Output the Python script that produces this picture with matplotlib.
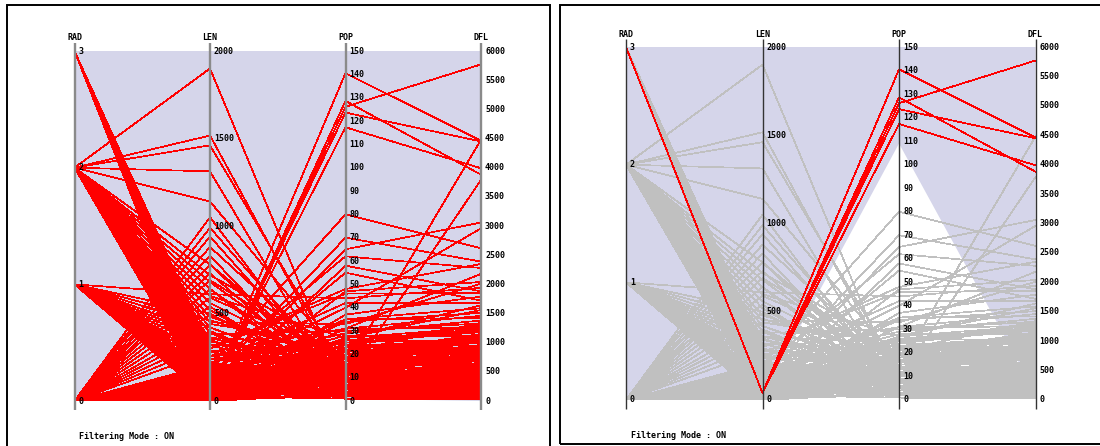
import numpy as np
import matplotlib.pyplot as plt
from matplotlib.patches import Rectangle, Polygon
from matplotlib.transforms import offset_copy

W, H = 1100, 446

# Parallel coordinates dimensions
names = ["RAD", "LEN", "POP", "DFL"]
maxima = [3, 2000, 150, 6000]
tick_steps = [1, 500, 10, 500]

# Records: (RAD, LEN, POP, DFL)
sel_rows = [
    (3, 40, 140.5, 4460), (3, 40, 128.6, 3880), (3, 40, 126.1, 5770),
    (3, 40, 123.6, 4450), (3, 40, 117.3, 3990),
]

rad3_rows = [
    (3, 30, 12, 420), (3, 45, 8, 260), (3, 55, 22, 880), (3, 60, 5, 150),
    (3, 65, 15, 640), (3, 70, 31, 1250), (3, 80, 9, 330), (3, 85, 18, 720),
    (3, 90, 3, 90), (3, 95, 26, 1020), (3, 100, 11, 480), (3, 105, 7, 210),
    (3, 110, 20, 800), (3, 115, 14, 560), (3, 120, 35, 1420), (3, 125, 4, 120),
    (3, 130, 17, 700), (3, 140, 24, 950), (3, 150, 10, 380), (3, 160, 6, 240),
    (3, 170, 28, 1120), (3, 180, 13, 520), (3, 190, 2, 60), (3, 200, 19, 760),
    (3, 210, 42, 1680), (3, 220, 8, 300), (3, 240, 16, 610), (3, 260, 23, 900),
    (3, 280, 12, 450), (3, 300, 46, 1850),
]

rad2_rows = [
    (2, 1900, 3, 310), (2, 1517, 7, 560), (2, 1461, 12, 230), (2, 1312, 1, 140),
    (2, 1140, 16, 690), (2, 780, 4, 380), (2, 720, 21, 1340), (2, 680, 9, 470),
    (2, 640, 2, 210), (2, 600, 27, 1560), (2, 560, 13, 830), (2, 520, 6, 320),
    (2, 480, 18, 1010), (2, 450, 33, 2010), (2, 420, 10, 560), (2, 390, 3, 110),
    (2, 360, 24, 1290), (2, 340, 15, 760), (2, 320, 8, 420), (2, 300, 48, 2350),
    (2, 280, 12, 650), (2, 260, 5, 240), (2, 240, 20, 1150), (2, 220, 29, 1380),
    (2, 200, 11, 590), (2, 185, 62, 2280), (2, 170, 7, 330), (2, 155, 17, 920),
    (2, 140, 14, 780), (2, 125, 9, 3790), (2, 110, 22, 1070), (2, 100, 4, 180),
    (2, 90, 55, 1720), (2, 80, 13, 610), (2, 70, 26, 1230), (2, 60, 2, 70),
    (2, 50, 19, 840), (2, 40, 8, 350), (2, 35, 37, 1790), (2, 30, 6, 260),
    (2, 25, 16, 700), (2, 20, 10, 440), (2, 15, 23, 990), (2, 10, 3, 130),
    (2, 5, 12, 520),
]

rad1_rows = [
    (1, 610, 44, 1940), (1, 500, 5, 230), (1, 460, 18, 870), (1, 420, 11, 500),
    (1, 380, 30, 1330), (1, 350, 7, 290), (1, 320, 21, 1040), (1, 290, 14, 650),
    (1, 260, 3, 120), (1, 240, 25, 1180), (1, 220, 9, 410), (1, 200, 80, 2620),
    (1, 180, 16, 740), (1, 160, 6, 250), (1, 145, 14, 4480), (1, 130, 19, 880),
    (1, 115, 11, 530), (1, 100, 34, 1510), (1, 90, 2, 90), (1, 80, 13, 600),
    (1, 70, 8, 360), (1, 60, 20, 930), (1, 50, 4, 170), (1, 40, 15, 680),
    (1, 30, 10, 460), (1, 20, 27, 1260), (1, 12, 6, 280), (1, 5, 17, 790),
]

rad0_fan_rows = [
    (0, 1050, 2, 160), (0, 990, 8, 540), (0, 940, 5, 330), (0, 880, 13, 720),
    (0, 830, 1, 60), (0, 780, 10, 470), (0, 730, 4, 210), (0, 690, 16, 880),
    (0, 640, 7, 380), (0, 590, 19, 1050), (0, 540, 3, 140), (0, 490, 11, 610),
    (0, 440, 24, 1220), (0, 400, 6, 290), (0, 360, 14, 800), (0, 320, 9, 430),
    (0, 280, 31, 1460),
]

rad0_low_rows = [
    (0, 210, 12, 560), (0, 195, 3, 180), (0, 180, 22, 1110), (0, 170, 6, 270),
    (0, 160, 15, 730), (0, 150, 40, 2960), (0, 140, 9, 400), (0, 130, 1, 40),
    (0, 125, 18, 960), (0, 120, 70, 2390), (0, 115, 11, 510), (0, 110, 4, 200),
    (0, 105, 27, 1640), (0, 100, 14, 690), (0, 95, 7, 310), (0, 90, 20, 1020),
    (0, 85, 2, 100), (0, 80, 65, 3060), (0, 75, 12, 580), (0, 70, 5, 240),
    (0, 65, 17, 830), (0, 60, 31, 2180), (0, 55, 9, 430), (0, 50, 24, 1320),
    (0, 47, 3, 130), (0, 44, 13, 620), (0, 41, 58, 1880), (0, 38, 7, 350),
    (0, 35, 19, 900), (0, 32, 10, 470), (0, 30, 47, 2040), (0, 28, 1, 30),
    (0, 26, 15, 760), (0, 24, 8, 390), (0, 22, 26, 1190), (0, 20, 4, 170),
    (0, 18, 12, 540), (0, 16, 21, 1060), (0, 14, 6, 280), (0, 12, 16, 800),
    (0, 10, 2, 80), (0, 8, 11, 520), (0, 6, 35, 1590), (0, 5, 8, 330),
    (0, 4, 14, 650), (0, 3, 5, 220), (0, 2, 18, 870), (0, 1, 10, 450),
    (0, 0, 3, 120), (0, 0, 23, 1080),
]

# Brush lower bounds per dimension (upper bound = axis max)
brush_full = [0, 20, 1, 0]
brush_pop = [0, 20, 109, 120]

rows = np.array(sel_rows + rad3_rows + rad2_rows + rad1_rows
                + rad0_fan_rows + rad0_low_rows, dtype=float)
norm = rows / np.array(maxima, dtype=float)

lavender = "#d5d5ea"
font = dict(family="DejaVu Sans Mono", fontweight="bold", fontsize=6, color="black")
line_w = 0.5

fig = plt.figure(figsize=(W / 100, H / 100), dpi=100)


def frame(x0, y0, x1, y1):
    fig.add_artist(Rectangle((x0 / W, 1 - y1 / H), (x1 - x0) / W, (y1 - y0) / H,
                             transform=fig.transFigure, fill=False,
                             edgecolor="black", linewidth=1.4))


def draw_panel(x_left, x_right, y_top, y_bot, brush_lo, filtered,
               axis_color, axis_lw, header_dy):
    ax = fig.add_axes([x_left / W, 1 - y_bot / H, (x_right - x_left) / W, (y_bot - y_top) / H])
    ax.set_xlim(0, 3)
    ax.set_ylim(0, 1)
    ax.axis("off")
    xs = np.arange(4)

    # brush region
    lo = np.array(brush_lo, dtype=float) / np.array(maxima, dtype=float)
    pts = list(zip(xs, np.ones(4))) + list(zip(xs[::-1], lo[::-1]))
    ax.add_patch(Polygon(pts, closed=True, facecolor=lavender, edgecolor="none", zorder=0))

    if filtered:
        inside = np.all(rows >= np.array(brush_lo), axis=1)
        for r in norm[~inside]:
            ax.plot(xs, r, color="#c0c0c0", lw=line_w, antialiased=False, zorder=1)
        for r in norm[inside]:
            ax.plot(xs, r, color="red", lw=line_w, antialiased=False, zorder=2)
    else:
        for r in norm:
            ax.plot(xs, r, color="red", lw=line_w, antialiased=False, zorder=1)

    px = y_bot - y_top
    tick_tr = offset_copy(ax.transData, fig=fig, x=4, y=0, units="dots")
    head_tr = offset_copy(ax.transData, fig=fig, x=0, y=header_dy, units="dots")
    for i in range(4):
        ax.plot([i, i], [-9 / px, 1 + 8 / px], color=axis_color, lw=axis_lw,
                clip_on=False, zorder=3, solid_capstyle="butt")
        for t in range(0, maxima[i] + 1, tick_steps[i]):
            ax.text(i, t / maxima[i], str(t), transform=tick_tr, ha="left",
                    va="center", zorder=4, **font)
        ax.text(i, 1, names[i], transform=head_tr, ha="center", va="center",
                zorder=4, **font)
    return ax


# Left: all records, filtering on with full brush
frame(6.6, 5, 549.6, 470)
draw_panel(74.5, 481, 51, 401, brush_full, False, "#8a8a8a", 1.7, 13)
fig.text(78.6 / W, 1 - 436.7 / H, "Filtering Mode : ON", ha="left", va="center", **font)

# Right: brushed on POP
frame(559.8, 5, 1120, 444)
draw_panel(626, 1035.5, 47, 400, brush_pop, True, "#333333", 1.0, 12.5)
fig.text(631 / W, 1 - 435 / H, "Filtering Mode : ON", ha="left", va="center", **font)

fig.savefig("out.png", dpi=100)
